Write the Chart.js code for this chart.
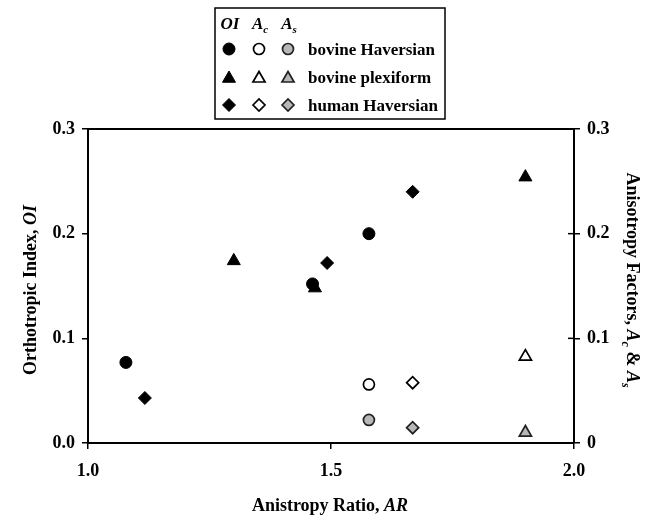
<!DOCTYPE html>
<html><head><meta charset="utf-8">
<script src="https://cdn.jsdelivr.net/npm/chart.js@4/dist/chart.umd.min.js"></script>
<style>html,body{margin:0;padding:0;background:#fff;}#wrap{width:648px;height:516px;position:relative;}</style>
</head><body><div id="wrap"><canvas id="c" width="648" height="516"></canvas></div>
<script>
// ---- data ----
const groups = ['bovine Haversian', 'bovine plexiform', 'human Haversian'];
const arBovineHaversian = [1.078, 1.462, 1.578];
const oiBovineHaversian = [0.077, 0.152, 0.200];
const arBovinePlexiform = [1.300, 1.467, 1.900];
const oiBovinePlexiform = [0.174, 0.148, 0.254];
const arHumanHaversian = [1.117, 1.492, 1.668];
const oiHumanHaversian = [0.043, 0.172, 0.240];
const arFactors = [1.578, 1.900, 1.668];
const acValues = [0.056, 0.0825, 0.0576];
const asValues = [0.022, 0.010, 0.0146];
const xTicks = [1.0, 1.5, 2.0];
const yTicks = [0, 0.1, 0.2, 0.3];

// ---- styling ----
const SERIF = '"Liberation Serif", "Times New Roman", serif';
const shapes = ['circle', 'triangle', 'rectRot'];
const radii = [6, 7.5, 6.5];
const GRAY = '#b8b8b8';

const oiAR = [arBovineHaversian, arBovinePlexiform, arHumanHaversian];
const oiVals = [oiBovineHaversian, oiBovinePlexiform, oiHumanHaversian];

const datasets = [];
groups.forEach((g, i) => {
  datasets.push({
    label: g + ' OI', yAxisID: 'y',
    data: oiAR[i].map((x, k) => ({x: x, y: oiVals[i][k]})),
    pointStyle: shapes[i], pointRadius: radii[i],
    backgroundColor: '#000', borderColor: '#000', borderWidth: 1
  });
  datasets.push({
    label: g + ' Ac', yAxisID: 'y2',
    data: [{x: arFactors[i], y: acValues[i]}],
    pointStyle: shapes[i], pointRadius: radii[i] - 0.5,
    backgroundColor: '#fff', borderColor: '#000', borderWidth: 1.7
  });
  datasets.push({
    label: g + ' As', yAxisID: 'y2',
    data: [{x: arFactors[i], y: asValues[i]}],
    pointStyle: shapes[i], pointRadius: radii[i] - 0.5,
    backgroundColor: GRAY, borderColor: '#222', borderWidth: 1.7
  });
});

function runsDraw(ctx, runs, cx, cy, rot) {
  ctx.save();
  ctx.translate(cx, cy);
  ctx.rotate(rot);
  let total = 0;
  runs.forEach(r => { ctx.font = r.f; r.w = ctx.measureText(r.t).width; total += r.w; });
  let x = -total / 2;
  ctx.textAlign = 'left';
  ctx.textBaseline = 'alphabetic';
  ctx.fillStyle = '#000';
  runs.forEach(r => { ctx.font = r.f; ctx.fillText(r.t, x, r.dy || 0); x += r.w; });
  ctx.restore();
}

function fallbackPoint(ctx, style, r, x, y) {
  ctx.beginPath();
  if (style === 'circle') ctx.arc(x, y, r, 0, Math.PI * 2);
  else if (style === 'triangle') {
    ctx.moveTo(x, y - r);
    ctx.lineTo(x + r * Math.sin(2 * Math.PI / 3), y - r * Math.cos(2 * Math.PI / 3));
    ctx.lineTo(x + r * Math.sin(4 * Math.PI / 3), y - r * Math.cos(4 * Math.PI / 3));
  } else {
    ctx.moveTo(x - r, y); ctx.lineTo(x, y - r); ctx.lineTo(x + r, y); ctx.lineTo(x, y + r);
  }
  ctx.closePath(); ctx.fill(); ctx.stroke();
}

const decor = {
  id: 'decor',
  afterDraw(chart) {
    const ctx = chart.ctx;
    const a = chart.chartArea;
    const y2 = chart.scales.y2;
    ctx.save();
    ctx.strokeStyle = '#000';
    // top frame line
    ctx.lineWidth = 2;
    ctx.beginPath(); ctx.moveTo(a.left - 1, a.top); ctx.lineTo(a.right + 1, a.top); ctx.stroke();
    // inner half of right crossing ticks
    ctx.lineWidth = 1.5;
    yTicks.forEach(v => {
      const py = y2.getPixelForValue(v);
      ctx.beginPath(); ctx.moveTo(a.right - 6, py); ctx.lineTo(a.right, py); ctx.stroke();
    });
    ctx.restore();

    // axis titles
    const B = 'bold 18px ' + SERIF, BI = 'italic bold 18px ' + SERIF, BIs = 'italic bold 12px ' + SERIF;
    runsDraw(ctx, [{t: 'Anistropy Ratio, ', f: B}, {t: 'AR', f: BI}], 330, 511, 0);
    runsDraw(ctx, [{t: 'Orthotropic Index, ', f: B}, {t: 'OI', f: BI}], 36, 290, -Math.PI / 2);
    runsDraw(ctx, [{t: 'Anisotropy Factors, ', f: B}, {t: 'A', f: BI}, {t: 'c', f: BIs, dy: 5},
                   {t: ' & ', f: B}, {t: 'A', f: BI}, {t: 's', f: BIs, dy: 5}], 627, 280, Math.PI / 2);

    // legend box
    ctx.save();
    ctx.fillStyle = '#fff';
    ctx.fillRect(215, 8, 230, 111);
    ctx.strokeStyle = '#000';
    ctx.lineWidth = 1.5;
    ctx.strokeRect(215, 8, 230, 111);
    ctx.restore();
    const colX = [229, 259, 288];
    const LB = 'italic bold 17px ' + SERIF, LBs = 'italic bold 11px ' + SERIF;
    runsDraw(ctx, [{t: 'OI', f: LB}], colX[0] + 1, 29, 0);
    runsDraw(ctx, [{t: 'A', f: LB}, {t: 'c', f: LBs, dy: 4}], colX[1] + 1, 29, 0);
    runsDraw(ctx, [{t: 'A', f: LB}, {t: 's', f: LBs, dy: 4}], colX[2] + 1, 29, 0);
    const rowY = [49, 77, 105];
    const dp = (Chart.helpers && Chart.helpers.drawPoint) ? Chart.helpers.drawPoint : null;
    groups.forEach((g, i) => {
      const styles = [
        {fill: '#000', stroke: '#000', lw: 1, r: radii[i]},
        {fill: '#fff', stroke: '#000', lw: 1.7, r: radii[i] - 0.5},
        {fill: GRAY, stroke: '#222', lw: 1.7, r: radii[i] - 0.5}
      ];
      styles.forEach((s, j) => {
        ctx.save();
        ctx.fillStyle = s.fill; ctx.strokeStyle = s.stroke; ctx.lineWidth = s.lw;
        const py = rowY[i] + (shapes[i] === 'triangle' ? 1.5 : 0);
        if (dp) dp(ctx, {pointStyle: shapes[i], radius: s.r, rotation: 0, borderWidth: s.lw}, colX[j], py);
        else fallbackPoint(ctx, shapes[i], s.r, colX[j], py);
        ctx.restore();
      });
      ctx.save();
      ctx.fillStyle = '#000';
      ctx.font = 'bold 17px ' + SERIF;
      ctx.textAlign = 'left';
      ctx.textBaseline = 'alphabetic';
      ctx.fillText(g, 308, rowY[i] + 6);
      ctx.restore();
    });
  }
};

const tickFont = {family: SERIF, size: 18, weight: 'bold'};
const gridOpts = {drawOnChartArea: false, drawTicks: true, tickLength: 6, color: '#000', lineWidth: 1.5};
const borderOpts = {display: true, color: '#000', width: 2};

new Chart(document.getElementById('c'), {
  type: 'scatter',
  data: {datasets: datasets},
  options: {
    responsive: false, animation: false, devicePixelRatio: 1,
    layout: {padding: {top: 129, left: 0, right: 0, bottom: 0}},
    plugins: {legend: {display: false}, tooltip: {enabled: false}, title: {display: false}},
    scales: {
      x: {
        type: 'linear', position: 'bottom', min: 1, max: 2,
        afterBuildTicks: s => { s.ticks = xTicks.map(v => ({value: v})); },
        afterFit: s => { s.height = 73; },
        ticks: {font: tickFont, color: '#000', padding: 12, maxRotation: 0,
                callback: v => Number(v).toFixed(1)},
        grid: gridOpts, border: borderOpts
      },
      y: {
        type: 'linear', position: 'left', min: 0, max: 0.3,
        afterBuildTicks: s => { s.ticks = yTicks.map(v => ({value: v})); },
        afterFit: s => { s.width = 88; },
        ticks: {font: tickFont, color: '#000', padding: 7, callback: v => Number(v).toFixed(1)},
        grid: gridOpts, border: borderOpts
      },
      y2: {
        type: 'linear', position: 'right', min: 0, max: 0.3,
        afterBuildTicks: s => { s.ticks = yTicks.map(v => ({value: v})); },
        afterFit: s => { s.width = 74; },
        ticks: {font: tickFont, color: '#000', padding: 7,
                callback: v => (v === 0 ? '0' : Number(v).toFixed(1))},
        grid: gridOpts, border: borderOpts
      }
    }
  },
  plugins: [decor]
});
</script></body></html>
